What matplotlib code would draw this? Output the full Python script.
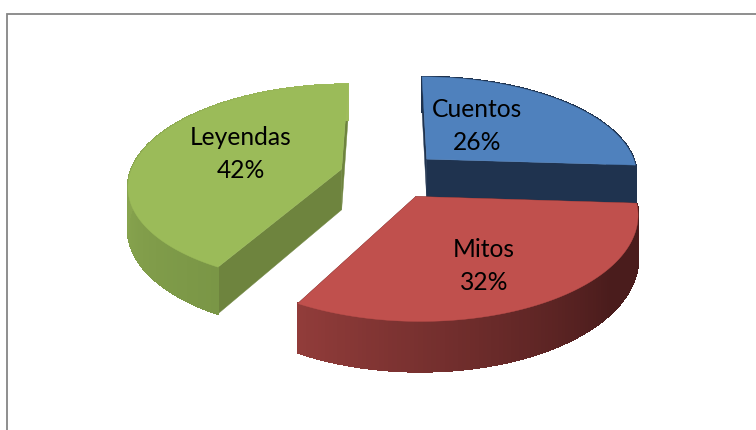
import numpy as np
import matplotlib
matplotlib.use("Agg")
import matplotlib.pyplot as plt
from matplotlib.colors import to_rgb

# --- data ---
categories = ["Cuentos", "Mitos", "Leyendas"]
percent = [26, 32, 42]

# --- styles ---
top_colors = ["#4f81bd", "#c0504d", "#9bbb59"]
radial_colors = ["#1f334f", "#4a1d1c", "#6e843e"]
wall_start = ["#1f334f", "#4a1c1c", "#7a9646"]   # colour at slice start angle
wall_end = ["#1f334f", "#913c3a", "#9fbc5d"]     # colour toward slice end
wall_hold = [0.0, 0.3, 0.0]                      # fraction kept at start colour
label_xy = [(477, 126), (484, 266), (241, 154)]
draw_order = [2, 0, 1]

# --- projection parameters (pixel space) ---
CX, CY, FX, FY = 390.5, 175.0, 212.0, 99.0
PERSP, EXPLODE, DEPTH = 0.15, 0.24, 41.0


def project(x, y, z=0.0):
    s = 1.0 / (1.0 + PERSP * y)
    return CX + FX * x * s, CY - FY * y * s + DEPTH * z * s


fig = plt.figure(figsize=(7.56, 4.30), dpi=100)
ax = fig.add_axes([0, 0, 1, 1])
ax.set_xlim(0, 756)
ax.set_ylim(430, 0)
ax.axis("off")

# chart frame (top and left only are visible)
ax.plot([6.5, 6.5, 756], [430, 13.5, 13.5], color="#868686", lw=1.3,
        solid_joinstyle="miter", zorder=0)

edges = np.concatenate([[0], np.cumsum(percent)]) / np.sum(percent) * 2 * np.pi
for i in draw_order:
    a0, a1 = edges[i], edges[i + 1]
    mid = (a0 + a1) / 2
    ox, oy = EXPLODE * np.sin(mid), EXPLODE * np.cos(mid)
    th = np.linspace(a0, a1, 120)
    rx, ry = ox + np.sin(th), oy + np.cos(th)

    # radial walls
    for a in (a0, a1):
        ex, ey = ox + np.sin(a), oy + np.cos(a)
        pts = [project(ox, oy, 0), project(ex, ey, 0),
               project(ex, ey, 1), project(ox, oy, 1)]
        ax.fill(*zip(*pts), color=radial_colors[i], lw=0.3)

    # outer wall with side gradient: antialiased base, then hard-edged strips
    c0, c1 = np.array(to_rgb(wall_start[i])), np.array(to_rgb(wall_end[i]))
    hold = wall_hold[i]
    bx0, by0 = project(rx, ry, 0)
    bx1, by1 = project(rx, ry, 1)
    ax.fill(np.r_[bx0, bx1[::-1]], np.r_[by0, by1[::-1]],
            color=(c0 + c1) / 2, lw=0.3)
    for j in range(len(th) - 1):
        f = max(0.0, (j / (len(th) - 2) - hold) / (1 - hold))
        col = c0 + (c1 - c0) * f
        pts = [project(rx[j], ry[j], 0), project(rx[j + 1], ry[j + 1], 0),
               project(rx[j + 1], ry[j + 1], 1), project(rx[j], ry[j], 1)]
        ax.fill(*zip(*pts), facecolor=col, edgecolor=col, lw=1.0,
                antialiased=False)

    # top face
    xs, ys = project(np.r_[ox, rx], np.r_[oy, ry])
    ax.fill(xs, ys, facecolor=top_colors[i], edgecolor=top_colors[i], lw=0.3)

for name, val, (lx, ly) in zip(categories, percent, label_xy):
    ax.text(lx, ly, f"{name}\n{val}%", ha="center", va="center",
            family="Lato", fontsize=17.7, color="black", linespacing=1.54)

fig.savefig("out.png", dpi=100, facecolor="white")
